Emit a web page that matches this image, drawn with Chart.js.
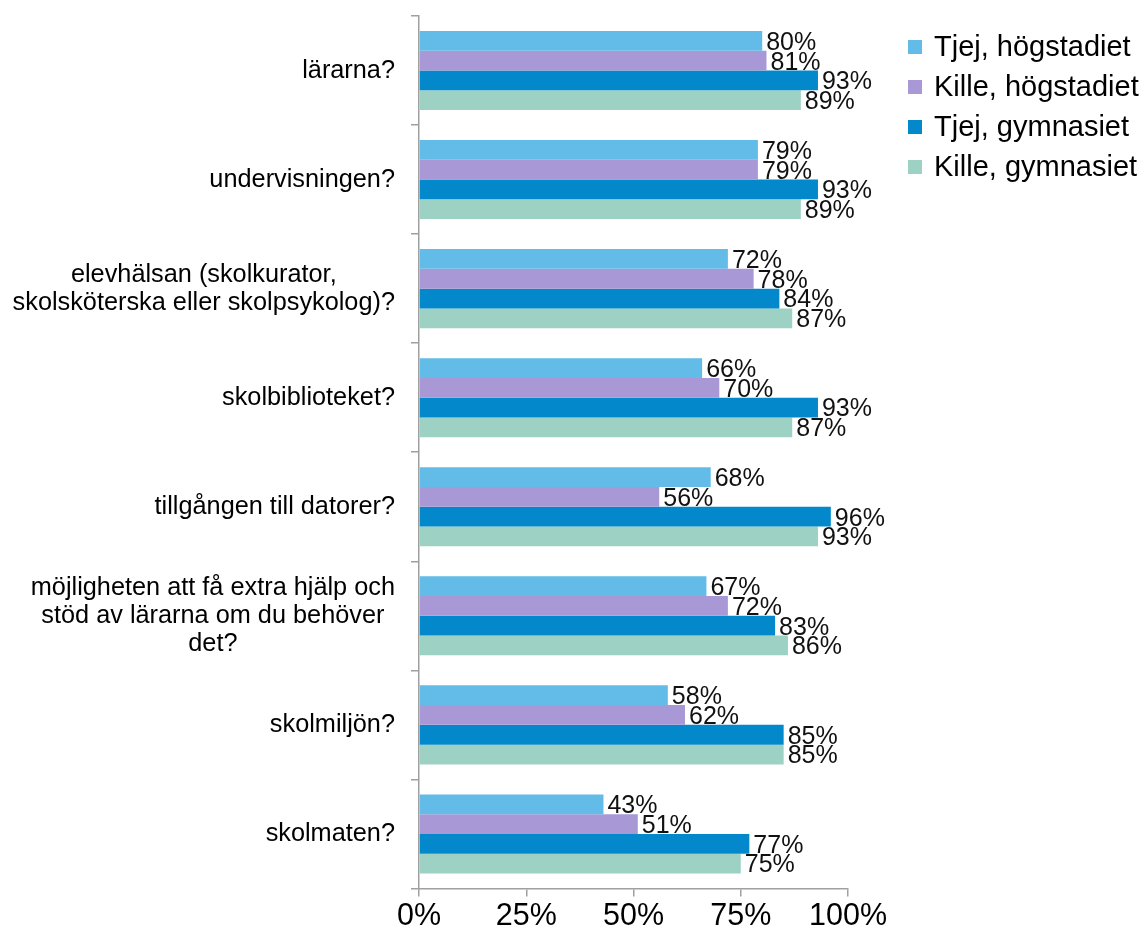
<!DOCTYPE html>
<html>
<head>
<meta charset="utf-8">
<script src="https://cdn.jsdelivr.net/npm/chart.js@4"></script>
<style>
  html, body { margin: 0; padding: 0; background: #fff; }
  #wrap { width: 1144px; height: 938px; }
</style>
</head>
<body>
<div id="wrap"><canvas id="myChart" width="1144" height="938"></canvas></div>
<script>
"use strict";
const categories = [
    ['lärarna?'],
    ['undervisningen?'],
    ['elevhälsan (skolkurator,', 'skolsköterska eller skolpsykolog)?'],
    ['skolbiblioteket?'],
    ['tillgången till datorer?'],
    ['möjligheten att få extra hjälp och', 'stöd av lärarna om du behöver', 'det?'],
    ['skolmiljön?'],
    ['skolmaten?']
];

const tjejHog = [80, 79, 72, 66, 68, 67, 58, 43];
const killeHog = [81, 79, 78, 70, 56, 72, 62, 51];
const tjejGym = [93, 93, 84, 93, 96, 83, 85, 77];
const killeGym = [89, 89, 87, 87, 93, 86, 85, 75];

const seriesNames = ['Tjej, högstadiet', 'Kille, högstadiet', 'Tjej, gymnasiet', 'Kille, gymnasiet'];
const colors = ['#63bbe8', '#a898d6', '#0388cb', '#9cd1c4'];
const xTicks = [0, 25, 50, 75, 100];

const fontFamily = '"Liberation Sans", Arial, sans-serif';

// category labels, each line centered on the label's own middle
const catLabels = {
    id: 'catLabels',
    afterDraw(chart) {
        const ctx = chart.ctx;
        const y = chart.scales.y;
        const right = chart.chartArea.left - 24;
        const lh = 28;
        ctx.save();
        ctx.font = '25.3px ' + fontFamily;
        ctx.fillStyle = '#000';
        ctx.textAlign = 'center';
        ctx.textBaseline = 'middle';
        categories.forEach((lines, i) => {
            const w = Math.max(...lines.map(l => ctx.measureText(l).width));
            const cx = right - w / 2;
            const cy = y.getPixelForValue(i);
            lines.forEach((l, j) => {
                ctx.fillText(l, cx, cy + (j - (lines.length - 1) / 2) * lh);
            });
        });
        ctx.restore();
    }
};

// value labels at the bar ends
const valueLabels = {
    id: 'valueLabels',
    afterDatasetsDraw(chart) {
        const ctx = chart.ctx;
        ctx.save();
        ctx.font = '25px ' + fontFamily;
        ctx.fillStyle = '#111';
        ctx.textAlign = 'left';
        ctx.textBaseline = 'middle';
        chart.data.datasets.forEach((ds, di) => {
            chart.getDatasetMeta(di).data.forEach((bar, i) => {
                ctx.fillText(ds.data[i] + '%', bar.x + 4, bar.y + 2);
            });
        });
        ctx.restore();
    }
};

// legend on the right
const sideLegend = {
    id: 'sideLegend',
    afterDraw(chart) {
        const ctx = chart.ctx;
        ctx.save();
        ctx.font = '29px ' + fontFamily;
        ctx.textAlign = 'left';
        ctx.textBaseline = 'middle';
        chart.data.datasets.forEach((ds, i) => {
            const cy = 47 + i * 40;
            ctx.fillStyle = ds.backgroundColor;
            ctx.fillRect(908, cy - 7, 14, 14);
            ctx.fillStyle = '#000';
            ctx.fillText(ds.label, 934, cy + 1);
        });
        ctx.restore();
    }
};

const ctx = document.getElementById('myChart').getContext('2d');
const myChart = new Chart(ctx, {
    type: 'bar',
    data: {
        labels: categories.map(c => c.join(' ')),
        datasets: [
            { label: seriesNames[0], data: tjejHog, backgroundColor: colors[0] },
            { label: seriesNames[1], data: killeHog, backgroundColor: colors[1] },
            { label: seriesNames[2], data: tjejGym, backgroundColor: colors[2] },
            { label: seriesNames[3], data: killeGym, backgroundColor: colors[3] }
        ]
    },
    options: {
        indexAxis: 'y',
        responsive: false,
        animation: false,
        datasets: {
            bar: { barPercentage: 1.0, categoryPercentage: 0.725 }
        },
        layout: { padding: { top: 16, right: 296, bottom: 2, left: 0 } },
        scales: {
            x: {
                min: 0,
                max: 100,
                afterBuildTicks: s => { s.ticks = xTicks.map(v => ({ value: v })); },
                border: { color: '#a0a0a0', width: 1.5 },
                grid: { drawOnChartArea: false, tickLength: 8, color: '#a0a0a0', lineWidth: 1.5 },
                ticks: {
                    callback: v => v + '%',
                    font: { family: fontFamily, size: 30.5, lineHeight: 1.1 },
                    color: '#000',
                    padding: 3,
                    maxRotation: 0
                }
            },
            y: {
                afterFit: s => { s.width = 419; },
                border: { color: '#a0a0a0', width: 1.5 },
                grid: { drawOnChartArea: false, tickLength: 8, color: '#a0a0a0', lineWidth: 1.5, offset: true },
                ticks: { display: false }
            }
        },
        plugins: {
            legend: { display: false },
            tooltip: { enabled: false }
        }
    },
    plugins: [catLabels, valueLabels, sideLegend]
});
</script>
</body>
</html>
